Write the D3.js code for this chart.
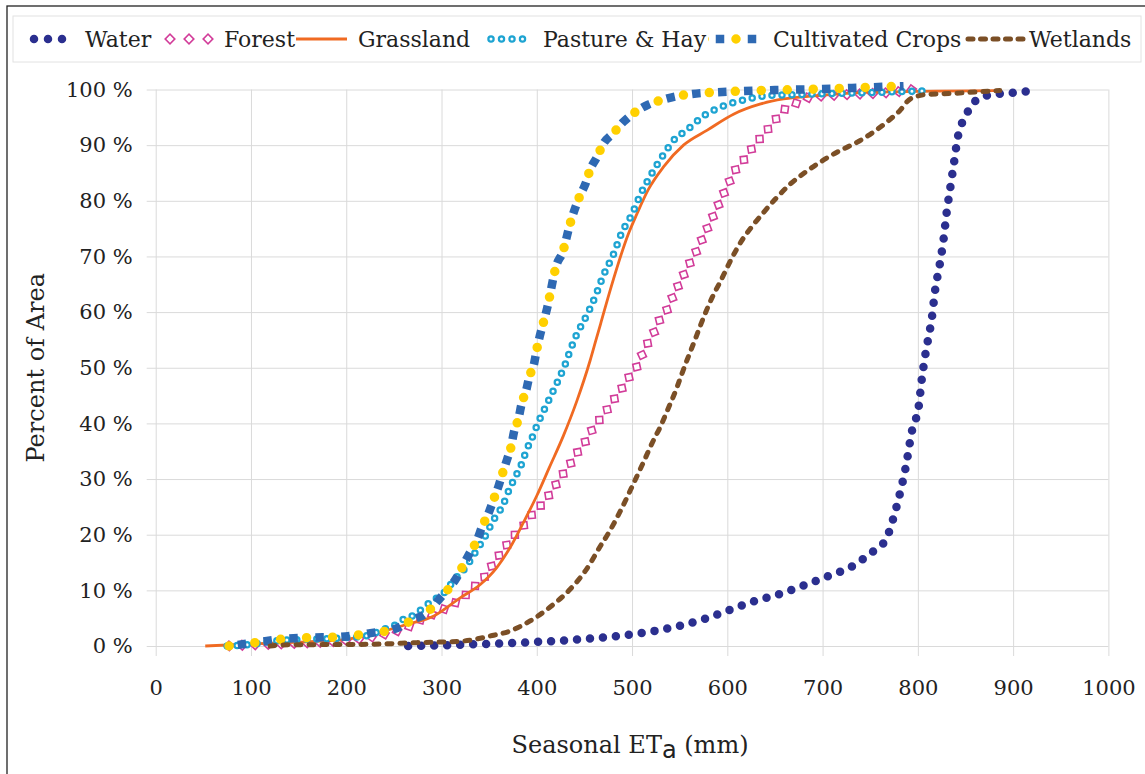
<!DOCTYPE html>
<html>
<head>
<meta charset="utf-8">
<script src="https://cdn.jsdelivr.net/npm/d3@7"></script>
<style>
  body { margin: 0; background: #fff; }
  text { font-family: "Palatino Linotype", "Book Antiqua", Palatino, "DejaVu Serif", serif; fill: #222; }
</style>
</head>
<body>
<svg id="chart" width="1145" height="774"></svg>
<script>
// seasonal ETa (mm) vs cumulative percent of area
let water = [[265,0],[295,0.1],[350,0.4],[407,0.8],[453,1.3],[495,2.0],[523,2.7],[549,3.6],[575,4.8],[601,6.4],[627,8.0],[654,9.3],[679,10.8],[705,12.5],[731,14.3],[753,17.0],[764,18.5],[770,20.6],[774,22.8],[781,27.3],[787,31.9],[794,38.8],[801,43.2],[804,47.8],[808,52.5],[815,59.4],[818,63.8],[823,68.6],[827,73.1],[830,77.6],[834,82.3],[838,86.9],[842,91.5],[846,93.8],[852,95.9],[860,97.9],[872,98.9],[898,99.4],[923,99.8]]

let forest = [[75,0],[100,0.2],[150,0.5],[200,1.0],[240,2.1],[267,3.6],[281,5.0],[295,6.0],[309,7.2],[323,8.8],[334,10.6],[346,12.6],[355,15.0],[364,17.1],[374,19.4],[385,21.4],[395,23.6],[406,25.6],[416,27.9],[425,30.3],[434,32.4],[442,34.6],[452,37.0],[460,39.4],[470,41.5],[479,43.8],[489,46.2],[498,48.6],[507,50.8],[513,53.4],[521,55.6],[528,58.3],[537,60.5],[544,63.2],[551,65.6],[558,68.0],[566,70.4],[573,72.9],[580,75.4],[587,77.9],[594,80.5],[601,83.0],[608,85.4],[618,87.5],[628,89.9],[638,91.9],[648,94.0],[658,96.1],[672,97.5],[687,98.6],[708,98.9],[741,99.2],[774,99.5],[795,100]]

let grassland = [[52,0],[100,0.4],[150,0.7],[200,1.2],[229,2.2],[264,3.9],[292,5.4],[320,8.7],[341,11.1],[358,14.1],[372,17.7],[386,22.2],[400,27.0],[413,32.0],[428,37.8],[442,44.0],[456,51.3],[462,54.9],[467,57.9],[478,64.5],[496,74.0],[505,77.6],[517,82.0],[533,86.1],[554,90.0],[579,92.7],[607,95.6],[635,97.4],[659,98.3],[694,98.9],[746,99.5],[880,99.8]]

let pasture = [[75,0],[100,0.3],[130,1.0],[160,1.2],[200,1.5],[220,1.8],[241,3.1],[253,3.9],[262,5.0],[273,5.7],[281,6.9],[292,8.3],[301,9.3],[315,12.2],[323,13.6],[330,15.3],[336,17.0],[342,18.6],[348,20.4],[353,22.2],[359,23.8],[365,25.5],[369,27.3],[379,30.9],[384,32.7],[388,34.6],[392,36.3],[397,38.2],[401,40.0],[406,41.8],[411,43.6],[416,45.4],[421,47.2],[430,50.7],[434,52.6],[438,54.4],[442,56.0],[453,59.6],[463,63.5],[469,66.2],[481,70.6],[489,74.2],[500,77.6],[509,81.2],[520,84.7],[533,88.3],[546,91.3],[556,92.5],[565,93.8],[573,95.0],[594,96.9],[617,98.1],[642,98.9],[676,99.1],[711,99.3],[757,99.5],[813,99.8]]

let crops = [[77,0],[100,0.5],[131,1.2],[160,1.5],[190,1.6],[229,2.4],[250,3.0],[271,4.8],[283,5.8],[290,6.9],[299,8.7],[308,10.4],[316,12.3],[323,14.6],[330,16.8],[337,18.9],[343,21.6],[349,23.7],[354,26.0],[360,28.8],[364,31.0],[369,33.6],[373,35.8],[376,38.4],[381,41.0],[384,43.5],[389,46.0],[392,48.3],[397,50.6],[400,53.3],[411,60.8],[421,68.6],[427,70.7],[435,75.9],[445,80.8],[451,83.0],[456,85.6],[463,87.8],[470,90.3],[480,92.1],[491,94.2],[503,95.9],[517,97.3],[531,98.1],[547,98.8],[563,99.2],[600,99.6],[650,99.9],[700,100.1],[750,100.4],[785,100.6]]

let wetlands = [[120,0],[134,0.2],[222,0.3],[274,0.6],[323,0.9],[351,1.8],[372,2.7],[393,4.5],[414,7.0],[435,10.2],[451,13.5],[468,18.3],[475,20.2],[487,24.0],[501,29.0],[514,33.8],[522,36.8],[530,39.5],[537,42.3],[547,46.4],[551,48.3],[558,51.5],[566,55.0],[572,57.7],[584,62.6],[593,65.6],[605,69.8],[615,72.8],[626,75.4],[638,77.9],[652,80.6],[666,83.0],[680,84.9],[697,86.9],[718,89.0],[736,90.5],[753,92.3],[767,94.1],[781,96.2],[792,98.3],[809,99.1],[837,99.3],[865,99.6],[886,99.8]]

let seriesNames = ["Water", "Forest", "Grassland", "Pasture & Hay", "Cultivated Crops", "Wetlands"]
let xTicks = [0, 100, 200, 300, 400, 500, 600, 700, 800, 900, 1000]
let yTicks = [0, 10, 20, 30, 40, 50, 60, 70, 80, 90, 100]

let svg = d3.select("#chart")

let x = d3.scaleLinear().domain([0, 1000]).range([155.7, 1108.4])
let y = d3.scaleLinear().domain([0, 100]).range([646, 89.5])

// outer frame
svg.append("rect")
    .attr("x", 7).attr("y", 6)
    .attr("width", 1160).attr("height", 800)
    .attr("fill", "none").attr("stroke", "#222").attr("stroke-width", 1.3)

// legend box
svg.append("rect")
    .attr("x", 13).attr("y", 16)
    .attr("width", 1128).attr("height", 46)
    .attr("fill", "#fff").attr("stroke", "#e2e2e2").attr("stroke-width", 1)

// grid + axes
let plotH = y(0) - y(100)
let plotW = x(1000) - x(0)

let xAxis = svg.append("g")
    .attr("transform", "translate(0," + y(100) + ")")
    .call(d3.axisBottom(x).tickValues(xTicks).tickSize(plotH + 10).tickPadding(24).tickFormat(d3.format("d")))
xAxis.select(".domain").remove()
xAxis.selectAll("line").attr("stroke", "#dadada")
xAxis.selectAll("text").style("font-size", "21px").attr("fill", "#222")

let yAxis = svg.append("g")
    .attr("transform", "translate(" + x(1000) + ",0)")
    .call(d3.axisLeft(y).tickValues(yTicks).tickSize(plotW + 9).tickPadding(14).tickFormat(d => d + " %"))
yAxis.select(".domain").remove()
yAxis.selectAll("line").attr("stroke", "#dadada")
yAxis.selectAll("text").style("font-size", "21px").attr("fill", "#222")

// axis titles
svg.append("text")
    .attr("transform", "translate(44," + y(50) + ") rotate(-90)")
    .attr("text-anchor", "middle")
    .style("font-size", "24px")
    .text("Percent of Area")

let xt = svg.append("text")
    .attr("x", x(500) - 2).attr("y", 753)
    .attr("text-anchor", "middle")
    .style("font-size", "24px")
xt.append("tspan").text("Seasonal ET")
xt.append("tspan").text("a").attr("dy", 5).style("font-family", "'DejaVu Sans', sans-serif")
xt.append("tspan").text(" (mm)").attr("dy", -5)

let line = d3.line()
    .x(d => x(d[0]))
    .y(d => y(d[1]))
    .curve(d3.curveMonotoneX)

let plot = svg.append("g")

// styles per series; each draws path string p into group g, step = spacing of the pattern
let drawWater = (g, p, step = 13) => {
    g.append("path").attr("d", p).attr("fill", "none")
        .attr("stroke", "#2b2f8f").attr("stroke-width", 8.5)
        .attr("stroke-linecap", "round").attr("stroke-dasharray", "0 " + step)
}

let drawForest = (g, p, step = 13, start = 2) => {
    let tmp = g.append("path").attr("d", p).attr("fill", "none").attr("stroke", "none")
    let node = tmp.node()
    let len = node.getTotalLength()
    let pts = []
    for (let s = start; s <= len + 0.1; s += step) {
        let a = node.getPointAtLength(Math.max(0, s - 1))
        let b = node.getPointAtLength(Math.min(len, s + 1))
        let c = node.getPointAtLength(Math.min(len, s))
        let ang = Math.atan2(b.y - a.y, b.x - a.x) * 180 / Math.PI
        pts.push({ x: c.x, y: c.y, ang: ang })
    }
    tmp.remove()
    g.selectAll("rect.fm")
        .data(pts)
        .enter()
        .append("rect")
        .attr("class", "fm")
        .attr("x", -3.4).attr("y", -3.4)
        .attr("width", 6.8).attr("height", 6.8)
        .attr("transform", d => "translate(" + d.x + "," + d.y + ") rotate(" + (d.ang + 45) + ")")
        .attr("fill", "#fff")
        .attr("stroke", "#d23c99")
        .attr("stroke-width", 1.6)
}

let drawGrass = (g, p) => {
    g.append("path").attr("d", p).attr("fill", "none")
        .attr("stroke", "#f06a22").attr("stroke-width", 2.8)
}

let drawPasture = (g, p, step = 10) => {
    g.append("path").attr("d", p).attr("fill", "none")
        .attr("stroke", "#1ea4d2").attr("stroke-width", 7.5)
        .attr("stroke-linecap", "round").attr("stroke-dasharray", "0 " + step)
    g.append("path").attr("d", p).attr("fill", "none")
        .attr("stroke", "#fff").attr("stroke-width", 3)
        .attr("stroke-linecap", "round").attr("stroke-dasharray", "0 " + step)
}

let drawCrops = (g, p, step = 26) => {
    let w = 8.5
    g.append("path").attr("d", p).attr("fill", "none")
        .attr("stroke", "#2e69b3").attr("stroke-width", w)
        .attr("stroke-dasharray", w + " " + (step - w))
        .attr("stroke-dashoffset", -(step / 2 - w / 2))
    g.append("path").attr("d", p).attr("fill", "none")
        .attr("stroke", "#ffd000").attr("stroke-width", 9.5)
        .attr("stroke-linecap", "round").attr("stroke-dasharray", "0 " + step)
}

let drawWet = (g, p, step = 13) => {
    g.append("path").attr("d", p).attr("fill", "none")
        .attr("stroke", "#7b4f26").attr("stroke-width", 5)
        .attr("stroke-linecap", "round").attr("stroke-dasharray", "5 " + (step - 5))
}

let series = [
    { name: seriesNames[0], data: water, draw: drawWater },
    { name: seriesNames[1], data: forest, draw: drawForest },
    { name: seriesNames[2], data: grassland, draw: drawGrass },
    { name: seriesNames[3], data: pasture, draw: drawPasture },
    { name: seriesNames[4], data: crops, draw: drawCrops },
    { name: seriesNames[5], data: wetlands, draw: drawWet }
]

series.forEach(s => {
    s.draw(plot.append("g"), line(s.data))
})

// legend: sample x0, sample x1, pattern step, text x
let legendPos = [[34, 76, 14, 85], [170, 208, 19, 224], [296, 347, 0, 358], [491, 533, 10.5, 543], [704, 768, 32, 773], [968, 1026, 12.5, 1029]]
let legendY = 39

svg.append("clipPath").attr("id", "legclip")
    .append("rect").attr("x", 708).attr("y", 20).attr("width", 58).attr("height", 40)

series.forEach((s, i) => {
    let lp = legendPos[i]
    let g = svg.append("g")
    if (i === 4) g.attr("clip-path", "url(#legclip)")
    let p = "M" + lp[0] + "," + legendY + "H" + lp[1]
    if (i === 1) s.draw(g, p, lp[2], 0)
    else s.draw(g, p, lp[2])
    svg.append("text")
        .attr("x", lp[3]).attr("y", legendY + 8)
        .style("font-size", "22px")
        .text(s.name)
})
</script>
</body>
</html>
